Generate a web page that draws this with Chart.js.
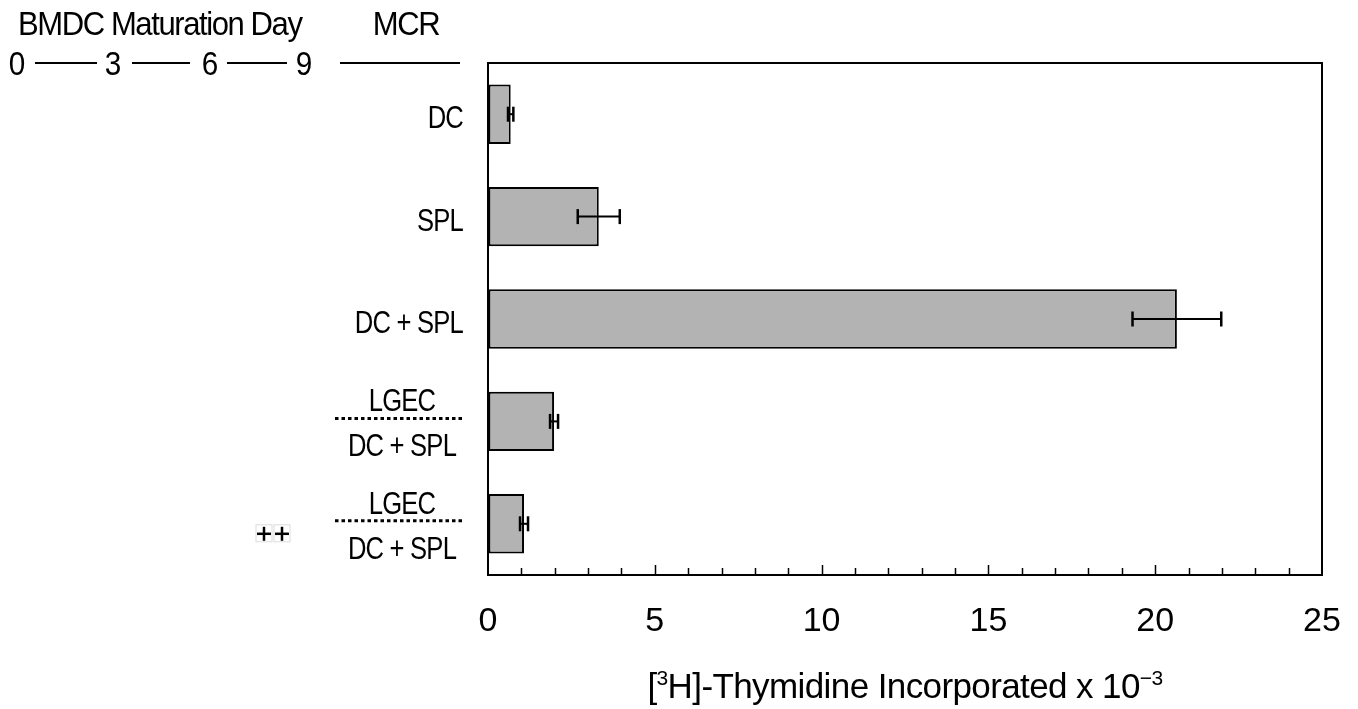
<!DOCTYPE html>
<html>
<head>
<meta charset="utf-8">
<script src="https://cdn.jsdelivr.net/npm/chart.js@4"></script>
<style>
  html, body { margin: 0; padding: 0; background: #fff; }
  #wrap { width: 1358px; height: 709px; }
</style>
</head>
<body>
<div id="wrap"><canvas id="chart"></canvas></div>
<script>
// data
const categories = ['DC', 'SPL', 'DC + SPL', 'LGEC|DC + SPL', 'LGEC|DC + SPL'];
const values = [0.68, 3.32, 20.65, 1.98, 1.08];
const errors = [0.08, 0.63, 1.33, 0.12, 0.12];
const marks = ['', '', '', '', '++'];
const dayLabels = ['0', '3', '6', '9'];
const xMax = 25;

const FONT = '"Liberation Sans", Arial, sans-serif';

// text drawn squeezed horizontally, like the narrow face of the figure
const txt = (ctx, s, x, y, size, align, spacing, sx) => {
  ctx.save();
  ctx.font = size + 'px ' + FONT;
  ctx.fillStyle = '#000';
  ctx.textAlign = align || 'left';
  ctx.textBaseline = 'alphabetic';
  ctx.letterSpacing = (spacing || 0) + 'px';
  ctx.translate(x, y);
  ctx.scale(sx || 1, 1);
  ctx.fillText(s, 0, 0);
  ctx.restore();
};

const textWidth = (ctx, s, size, spacing, sx) => {
  ctx.save();
  ctx.font = size + 'px ' + FONT;
  ctx.letterSpacing = (spacing || 0) + 'px';
  const w = ctx.measureText(s).width * (sx || 1);
  ctx.restore();
  return w;
};

const line = (ctx, x1, y1, x2, y2, w) => {
  ctx.beginPath();
  ctx.lineWidth = w || 2;
  ctx.moveTo(x1, y1);
  ctx.lineTo(x2, y2);
  ctx.stroke();
};

const decorations = {
  id: 'decorations',
  afterDraw(chart) {
    const { ctx, chartArea: a, scales } = chart;
    const xs = scales.x, ys = scales.y;
    ctx.save();
    ctx.strokeStyle = '#000';
    ctx.lineCap = 'butt';

    // top and right frame
    line(ctx, a.left - 1, a.top, a.right + 1, a.top, 2);
    line(ctx, a.right, a.top, a.right, a.bottom, 2);

    // inward ticks
    for (let v = 1; v < xMax; v++) {
      const x = Math.round(xs.getPixelForValue(v)) + 0.5;
      line(ctx, x, a.bottom, x, a.bottom - (v % 5 === 0 ? 10 : 7), 1.5);
    }

    // error bars
    const meta = chart.getDatasetMeta(0);
    meta.data.forEach((el, i) => {
      const y = el.y;
      const x1 = xs.getPixelForValue(values[i] - errors[i]);
      const x2 = xs.getPixelForValue(values[i] + errors[i]);
      line(ctx, x1, y, x2, y, 2);
      line(ctx, x1, y - 7.5, x1, y + 7.5, 2.5);
      line(ctx, x2, y - 7.5, x2, y + 7.5, 2.5);
    });

    // category labels
    categories.forEach((c, i) => {
      const y = ys.getPixelForValue(i);
      const parts = c.split('|');
      if (parts.length === 1) {
        txt(ctx, parts[0], 463, y + 14, 32, 'right', -1, 0.8);
      } else {
        txt(ctx, parts[0], 402, y - 10, 32, 'center', -1, 0.8);
        ctx.save();
        ctx.setLineDash([3.5, 3]);
        line(ctx, 335, y - 3, 465, y - 3, 3);
        ctx.restore();
        txt(ctx, parts[1], 402, y + 35, 32, 'center', -1, 0.8);
      }
      if (marks[i]) {
        const cx = [264, 282];
        ctx.save();
        ctx.strokeStyle = '#dcdcdc';
        ctx.lineWidth = 1;
        cx.forEach((x) => ctx.strokeRect(x - 8, y + 1, 16, 17));
        ctx.strokeStyle = '#000';
        cx.forEach((x) => {
          line(ctx, x - 7, y + 10, x + 7, y + 10, 2.5);
          line(ctx, x, y + 3, x, y + 17, 2.5);
        });
        ctx.restore();
      }
    });

    // header
    txt(ctx, 'BMDC Maturation Day', 18, 35, 33, 'left', -1.5, 0.94);
    txt(ctx, 'MCR', 406, 35, 33, 'center', -1.5, 0.94);
    const dayX = [17, 113, 210, 304];
    dayLabels.forEach((d, i) => txt(ctx, d, dayX[i], 75, 33, 'center', 0, 0.9));
    line(ctx, 35, 63, 97, 63, 2);
    line(ctx, 132, 63, 190, 63, 2);
    line(ctx, 227, 63, 287, 63, 2);
    line(ctx, 340, 63, 460, 63, 2);

    // axis title with superscripts
    const cx = (a.left + a.right) / 2;
    const segs = [['[', 35, 0], ['3', 21, -13], ['H]-Thymidine Incorporated x 10', 35, 0], ['\u22123', 21, -13]];
    let total = 0;
    segs.forEach((s) => { total += textWidth(ctx, s[0], s[1], -0.6, 1); });
    let x = cx - total / 2;
    segs.forEach((s) => {
      txt(ctx, s[0], x, 698 + s[2], s[1], 'left', -0.6, 1);
      x += textWidth(ctx, s[0], s[1], -0.6, 1);
    });
    ctx.restore();
  }
};

new Chart(document.getElementById('chart'), {
  type: 'bar',
  data: {
    labels: categories,
    datasets: [{
      data: values,
      backgroundColor: '#b3b3b3',
      borderColor: '#000',
      borderWidth: 2,
      borderSkipped: false,
      categoryPercentage: 1,
      barPercentage: 0.58,
    }],
  },
  options: {
    indexAxis: 'y',
    responsive: true,
    maintainAspectRatio: false,
    animation: false,
    layout: { padding: { top: 63, right: 36, left: 0, bottom: 0 } },
    plugins: { legend: { display: false }, tooltip: { enabled: false } },
    scales: {
      x: {
        min: 0,
        max: xMax,
        ticks: {
          stepSize: 1,
          autoSkip: false,
          maxRotation: 0,
          padding: 26,
          color: '#000',
          font: { family: FONT, size: 34 },
          callback: (v) => (v % 5 === 0 ? String(v) : ''),
        },
        grid: { display: true, drawOnChartArea: false, drawTicks: false },
        border: { display: true, color: '#000', width: 2 },
        afterFit: (s) => { s.height = 134; s.paddingRight = 0; s.paddingLeft = 0; },
      },
      y: {
        ticks: { display: false },
        grid: { display: false },
        border: { display: true, color: '#000', width: 2 },
        afterFit: (s) => { s.width = 488; },
      },
    },
  },
  plugins: [decorations],
});
</script>
</body>
</html>
